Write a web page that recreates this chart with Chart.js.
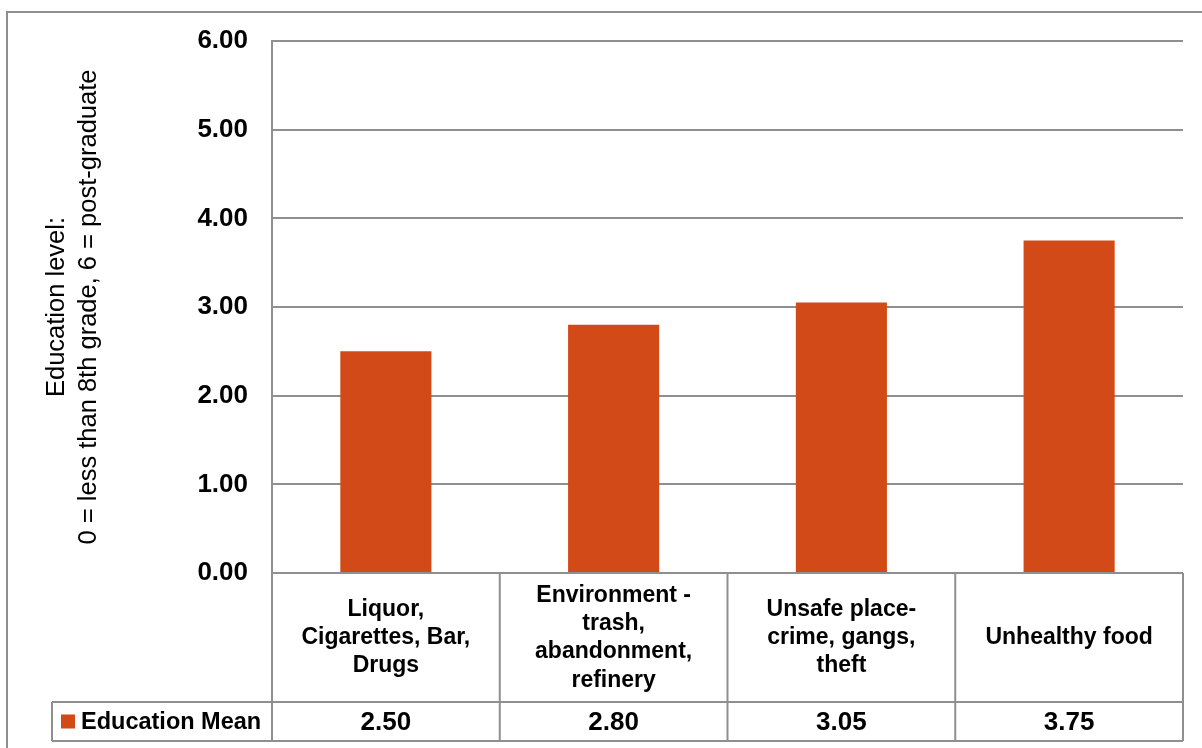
<!DOCTYPE html>
<html>
<head>
<meta charset="utf-8">
<style>
  html, body { margin: 0; padding: 0; background: #ffffff; }
  #wrap { position: relative; width: 1202px; height: 748px; }
  canvas { display: block; }
</style>
<script src="https://cdn.jsdelivr.net/npm/chart.js@4.4.1/dist/chart.umd.min.js"></script>
</head>
<body>
<div id="wrap"><canvas id="chart" width="1202" height="748"></canvas></div>
<script>
// Mean education level by neighbourhood concern
const categories = [
  ['Liquor,', 'Cigarettes, Bar,', 'Drugs'],
  ['Environment -', 'trash,', 'abandonment,', 'refinery'],
  ['Unsafe place-', 'crime, gangs,', 'theft'],
  ['Unhealthy food']
];
const seriesName = 'Education Mean';
const educationMean = [2.50, 2.80, 3.05, 3.75];
const yTicks = [0, 1, 2, 3, 4, 5, 6];
const yTitle = ['Education level:', '0 = less than 8th grade, 6 = post-graduate'];

const BAR = '#D24A18';
const LINE = '#8f8f8f';
const FONT = "'Liberation Sans', Arial, sans-serif";

// Draws the outer frame plus the data table beneath the category axis
const dataTable = {
  id: 'dataTable',
  afterDraw(chart) {
    const ctx = chart.ctx;
    const x = chart.scales.x;
    const area = chart.chartArea;
    const n = categories.length;
    const step = (area.right - area.left) / n;
    const rowTop = area.bottom;
    const rowMid = x.bottom - 39;
    const rowBot = x.bottom;
    const legendLeft = 52;

    ctx.save();
    ctx.strokeStyle = LINE;
    ctx.lineWidth = 2;

    // outer frame
    ctx.strokeRect(7, 12, 1240, 780);

    ctx.beginPath();
    // horizontal rules
    ctx.moveTo(area.left, rowTop); ctx.lineTo(area.right, rowTop);
    ctx.moveTo(legendLeft, rowMid); ctx.lineTo(area.right, rowMid);
    ctx.moveTo(legendLeft, rowBot); ctx.lineTo(area.right, rowBot);
    // vertical rules between columns
    for (let i = 0; i <= n; i++) {
      const px = area.left + i * step;
      ctx.moveTo(px, rowTop - (i === 0 ? 1 : 0)); ctx.lineTo(px, rowBot);
    }
    ctx.moveTo(legendLeft, rowMid); ctx.lineTo(legendLeft, rowBot);
    ctx.stroke();

    // legend key in the series row
    const midY = (rowMid + rowBot) / 2;
    ctx.fillStyle = chart.data.datasets[0].backgroundColor;
    ctx.fillRect(61, midY - 7, 14, 14);
    ctx.fillStyle = '#000';
    ctx.font = 'bold 23.5px ' + FONT;
    ctx.textBaseline = 'middle';
    ctx.textAlign = 'left';
    ctx.fillText(chart.data.datasets[0].label, 81, midY + 1);

    // values row
    ctx.font = 'bold 26px ' + FONT;
    ctx.textAlign = 'center';
    const vals = chart.data.datasets[0].data;
    vals.forEach((v, i) => {
      ctx.fillText(v.toFixed(2), x.getPixelForValue(i), midY + 1);
    });
    ctx.restore();
  }
};

new Chart(document.getElementById('chart'), {
  type: 'bar',
  data: {
    labels: categories,
    datasets: [{
      label: seriesName,
      data: educationMean,
      backgroundColor: BAR,
      borderWidth: 0,
      barPercentage: 0.4,
      categoryPercentage: 1.0
    }]
  },
  options: {
    responsive: false,
    animation: false,
    devicePixelRatio: 1,
    layout: { padding: { top: 41, right: 19, bottom: 7, left: 0 } },
    plugins: {
      legend: { display: false },
      tooltip: { enabled: false }
    },
    scales: {
      x: {
        grid: { display: false, drawTicks: false },
        border: { display: false },
        ticks: {
          autoSkip: false,
          maxRotation: 0,
          minRotation: 0,
          crossAlign: 'center',
          padding: 23,
          color: '#000',
          font: { family: FONT, size: 23, weight: 'bold', lineHeight: 1.22 }
        },
        afterFit(scale) { scale.height = 168; }
      },
      y: {
        min: 0,
        max: 6,
        afterBuildTicks(scale) { scale.ticks = yTicks.map(v => ({ value: v })); },
        grid: { color: LINE, lineWidth: 2, drawTicks: false },
        border: { display: true, color: LINE, width: 2 },
        ticks: {
          padding: 24,
          color: '#000',
          font: { family: FONT, size: 26, weight: 'bold' },
          callback: (v) => Number(v).toFixed(2)
        },
        title: {
          display: true,
          text: yTitle,
          color: '#000',
          padding: { top: 41, bottom: 0 },
          font: { family: FONT, size: 25.5, lineHeight: 1.255 }
        },
        afterFit(scale) { scale.width = 272; }
      }
    }
  },
  plugins: [dataTable]
});
</script>
</body>
</html>
